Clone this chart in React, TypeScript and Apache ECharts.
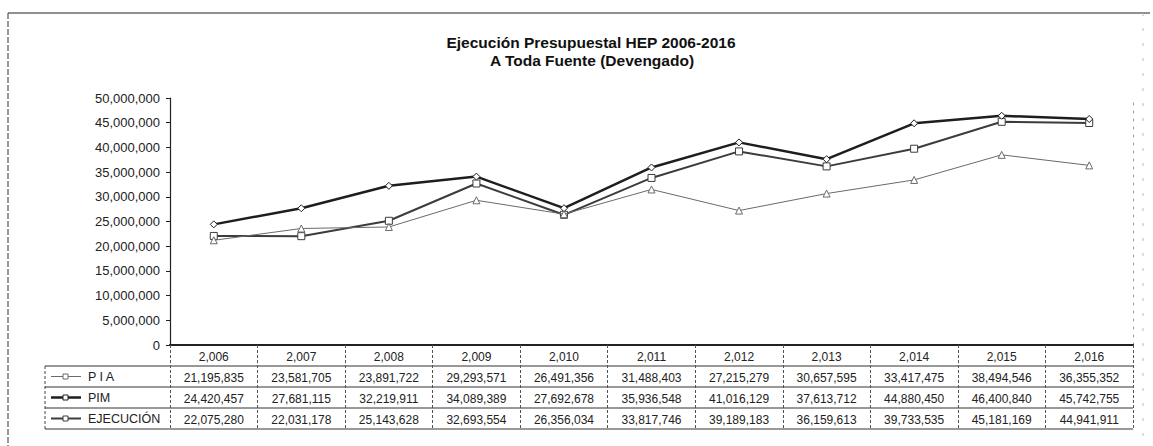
import React, { useEffect, useRef } from "react";
import * as echarts from "echarts";

const years = ["2,006", "2,007", "2,008", "2,009", "2,010", "2,011", "2,012", "2,013", "2,014", "2,015", "2,016"];
const pia = [21195835, 23581705, 23891722, 29293571, 26491356, 31488403, 27215279, 30657595, 33417475, 38494546, 36355352];
const pim = [24420457, 27681115, 32219911, 34089389, 27692678, 35936548, 41016129, 37613712, 44880450, 46400840, 45742755];
const ejecucion = [22075280, 22031178, 25143628, 32693554, 26356034, 33817746, 39189183, 36159613, 39733535, 45181169, 44941911];
const seriesNames = ["P I A", "PIM", "EJECUCIÓN"];

const fmt = (v: number) => v.toLocaleString("en-US");
const FONT = "Liberation Sans, Arial, sans-serif";

const GRID_L = 170;
const GRID_R = 1133;
const GRID_T = 98;
const GRID_B = 345;
const ROW_H = 21;
const TABLE_L = 45;

export default function App() {
  const ref = useRef<HTMLDivElement>(null);
  useEffect(() => {
    if (!ref.current) return;
    const chart = echarts.init(ref.current, undefined, { renderer: "svg" });
    const styles = [
      { color: "#6a6a6a", width: 1, symbol: "triangle" },
      { color: "#1e1e1e", width: 2.5, symbol: "diamond" },
      { color: "#3c3c3c", width: 2, symbol: "rect" },
    ];
    const datasets = [pia, pim, ejecucion];

    const graphics: any[] = [
      { type: "text", x: 591, y: 42, style: { text: "Ejecución Presupuestal HEP 2006-2016", font: `bold 15.5px ${FONT}`, fill: "#111", align: "center", verticalAlign: "middle" } },
      { type: "text", x: 592, y: 60, style: { text: "A Toda Fuente (Devengado)", font: `bold 15.5px ${FONT}`, fill: "#111", align: "center", verticalAlign: "middle" } },
      { type: "line", shape: { x1: 8, y1: 13, x2: 1150, y2: 13 }, style: { stroke: "#222", lineWidth: 1.2 } },
      { type: "line", shape: { x1: 8, y1: 13, x2: 8, y2: 446 }, style: { stroke: "#333", lineWidth: 1, lineDash: [6, 2] } },
      { type: "line", shape: { x1: 1143, y1: 13, x2: 1143, y2: 446 }, style: { stroke: "#bbb", lineWidth: 1, lineDash: [3, 12] } },
      { type: "line", shape: { x1: TABLE_L, y1: GRID_B + ROW_H, x2: TABLE_L, y2: GRID_B + 4 * ROW_H }, style: { stroke: "#444", lineWidth: 1, lineDash: [3, 2] } },
    ];
    for (let r = 1; r <= 4; r++) {
      const y = GRID_B + r * ROW_H;
      graphics.push({ type: "line", shape: { x1: TABLE_L, y1: y, x2: GRID_R, y2: y }, style: { stroke: "#333", lineWidth: 1 } });
    }
    seriesNames.forEach((name, i) => {
      const cy = GRID_B + (i + 1.5) * ROW_H;
      const st = styles[i];
      graphics.push({ type: "line", shape: { x1: 51, y1: cy, x2: 81, y2: cy }, style: { stroke: st.color, lineWidth: st.width } });
      graphics.push({ type: "rect", shape: { x: 63, y: cy - 2.5, width: 5, height: 5 }, style: { fill: "#fff", stroke: st.color, lineWidth: 1 } });
      graphics.push({ type: "text", x: 88, y: cy, style: { text: name, font: `12.5px ${FONT}`, fill: "#222", verticalAlign: "middle" } });
    });

    chart.setOption({
      animation: false,
      grid: { left: GRID_L, right: 1153 - GRID_R, top: GRID_T, bottom: 446 - GRID_B, containLabel: false },
      xAxis: [
        {
          type: "category",
          data: years,
          boundaryGap: true,
          axisLine: { show: true, lineStyle: { color: "#111", width: 1.5 } },
          axisTick: { show: true, interval: 0, length: 4 * ROW_H, lineStyle: { color: "#555", type: [3, 2] } },
          axisLabel: {
            interval: 0,
            margin: 1,
            formatter: (value: string, idx: number) =>
              `{h|${value}}\n{v|${fmt(pia[idx])}}\n{v|${fmt(pim[idx])}}\n{v|${fmt(ejecucion[idx])}}`,
            rich: {
              h: { fontFamily: FONT, fontSize: 12, color: "#222", lineHeight: ROW_H },
              v: { fontFamily: FONT, fontSize: 12, color: "#222", lineHeight: ROW_H },
            },
          },
        },
        {
          type: "category",
          data: years,
          position: "top",
          axisLine: { show: true, lineStyle: { color: "#222", width: 2 } },
          axisTick: { show: false },
          axisLabel: { show: false },
        },
      ],
      yAxis: [
        {
          type: "value",
          min: 0,
          max: 50000000,
          interval: 5000000,
          axisLine: { show: true, lineStyle: { color: "#222", width: 1.2 } },
          axisTick: { show: true, length: 4, lineStyle: { color: "#222" } },
          splitLine: { show: false },
          axisLabel: { fontFamily: FONT, fontSize: 13, color: "#222", margin: 10, formatter: (v: number) => fmt(v) },
        },
        {
          type: "value",
          min: 0,
          max: 50000000,
          interval: 5000000,
          position: "right",
          axisLine: { show: true, lineStyle: { color: "#999", type: [2, 6] } },
          axisTick: { show: false },
          axisLabel: { show: false },
          splitLine: { show: false },
        },
      ],
      series: datasets.map((d, i) => ({
        name: seriesNames[i],
        type: "line",
        data: d,
        xAxisIndex: 0,
        yAxisIndex: 0,
        symbol: styles[i].symbol,
        symbolSize: 7,
        showSymbol: true,
        lineStyle: { color: styles[i].color, width: styles[i].width },
        itemStyle: { color: "#fff", borderColor: styles[i].color, borderWidth: 1 },
        z: 3 - i,
      })),
      graphic: graphics,
    });
    return () => chart.dispose();
  }, []);
  return <div ref={ref} style={{ position: "fixed", left: 0, top: 0, width: 1153, height: 446, background: "#fff" }} />;
}
